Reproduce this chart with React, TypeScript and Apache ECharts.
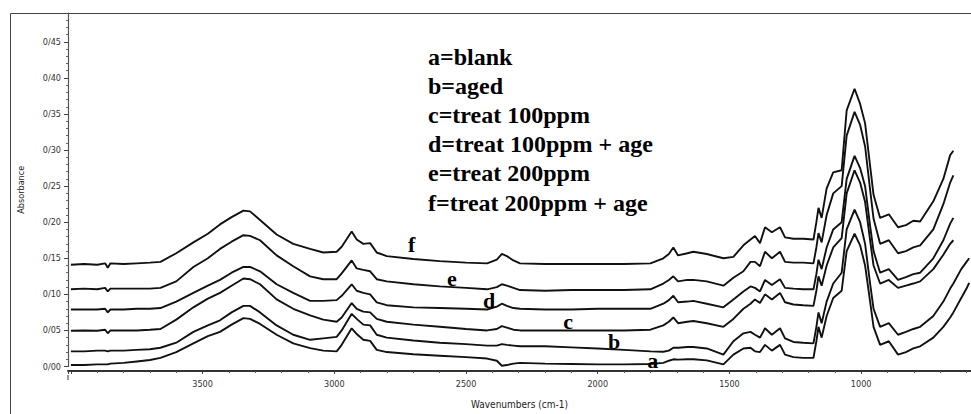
import React, { useEffect, useRef } from 'react';
import * as echarts from 'echarts';

// Wavenumber grid (cm-1), descending
const wavenumbers = [
  4000, 3950, 3900, 3870, 3860, 3850, 3800, 3750, 3700, 3660,
  3600, 3535, 3480, 3434, 3390, 3345, 3320, 3282, 3219, 3156,
  3092, 3042, 2991, 2972, 2934, 2915, 2890, 2864, 2839, 2801,
  2700, 2600, 2500, 2420, 2383, 2364, 2345, 2320, 2295, 2200,
  2100, 2000, 1900, 1800, 1751, 1730, 1713, 1695, 1660, 1637,
  1586, 1523, 1485, 1447, 1420, 1403, 1384, 1365, 1339, 1308,
  1289, 1257, 1220, 1181, 1170, 1162, 1150, 1131, 1106, 1074,
  1055, 1025, 1004, 985, 966, 953, 928, 895, 860, 830,
  802, 776, 726, 688, 662, 650, 620, 600, 590,
];

// a = blank
const curveA = [
  0.002, 0.002, 0.003, 0.003, 0.003, 0.004, 0.005, 0.007, 0.009, 0.012,
  0.020, 0.032, 0.042, 0.048, 0.058, 0.067, 0.066, 0.059, 0.044, 0.032,
  0.0255, 0.022, 0.021, 0.030, 0.053, 0.045, 0.037, 0.0355, 0.023, 0.020,
  0.017, 0.015, 0.013, 0.011, 0.008, 0.001, 0.002, 0.004, 0.005, 0.004,
  0.0035, 0.003, 0.003, 0.0035, 0.005, 0.008, 0.010, 0.0095, 0.010, 0.010,
  0.0085, 0.003, 0.0165, 0.025, 0.026, 0.021, 0.020, 0.030, 0.022, 0.030,
  0.0165, 0.013, 0.012, 0.012, 0.035, 0.055, 0.040, 0.070, 0.095, 0.105,
  0.160, 0.184, 0.168, 0.140, 0.090, 0.055, 0.030, 0.035, 0.0165, 0.020,
  0.025, 0.028, 0.040, 0.055, 0.068, 0.075, 0.095, 0.108, 0.116,
];

// b = aged
const curveB = [
  0.021, 0.021, 0.022, 0.022, 0.021, 0.022, 0.022, 0.023, 0.024, 0.026,
  0.033, 0.048, 0.057, 0.064, 0.075, 0.084, 0.084, 0.075, 0.057, 0.044,
  0.037, 0.039, 0.041, 0.050, 0.073, 0.066, 0.058, 0.057, 0.044, 0.040,
  0.036, 0.033, 0.031, 0.029, 0.029, 0.031, 0.030, 0.029, 0.028, 0.028,
  0.0265, 0.025, 0.023, 0.021, 0.0205, 0.022, 0.026, 0.026, 0.027, 0.027,
  0.025, 0.0165, 0.035, 0.046, 0.048, 0.044, 0.040, 0.053, 0.044, 0.053,
  0.039, 0.034, 0.033, 0.032, 0.055, 0.075, 0.060, 0.090, 0.115, 0.130,
  0.190, 0.2175, 0.200, 0.170, 0.115, 0.080, 0.055, 0.060, 0.044, 0.048,
  0.052, 0.055, 0.070, 0.090, 0.108, 0.115, 0.135, 0.145, 0.150,
];

// c = treat 100ppm
const curveC = [
  0.0495, 0.050, 0.0495, 0.051, 0.046, 0.050, 0.050, 0.050, 0.051, 0.052,
  0.065, 0.082, 0.094, 0.102, 0.112, 0.122, 0.121, 0.114, 0.093, 0.080,
  0.071, 0.065, 0.062, 0.068, 0.088, 0.080, 0.076, 0.075, 0.066, 0.062,
  0.058, 0.055, 0.052, 0.050, 0.052, 0.056, 0.054, 0.051, 0.050, 0.050,
  0.050, 0.050, 0.050, 0.051, 0.057, 0.062, 0.068, 0.060, 0.062, 0.063,
  0.060, 0.055, 0.066, 0.080, 0.087, 0.093, 0.088, 0.100, 0.093, 0.102,
  0.089, 0.086, 0.085, 0.084, 0.105, 0.125, 0.112, 0.140, 0.165, 0.178,
  0.240, 0.272, 0.255, 0.228, 0.175, 0.140, 0.115, 0.120, 0.109, 0.112,
  0.115, 0.118, 0.135, 0.155, 0.170, 0.175, null, null, null,
];

// d = treat 100ppm + age
const curveD = [
  0.079, 0.079, 0.079, 0.080, 0.075, 0.079, 0.079, 0.080, 0.080, 0.081,
  0.090, 0.102, 0.112, 0.120, 0.130, 0.138, 0.138, 0.132, 0.114, 0.102,
  0.091, 0.091, 0.092, 0.098, 0.114, 0.105, 0.102, 0.100, 0.089, 0.085,
  0.082, 0.081, 0.080, 0.079, 0.083, 0.087, 0.084, 0.081, 0.080, 0.079,
  0.079, 0.080, 0.080, 0.080, 0.087, 0.092, 0.098, 0.089, 0.090, 0.091,
  0.087, 0.082, 0.093, 0.104, 0.111, 0.109, 0.104, 0.120, 0.113, 0.121,
  0.109, 0.108, 0.107, 0.107, 0.128, 0.148, 0.135, 0.165, 0.190, 0.200,
  0.260, 0.292, 0.275, 0.250, 0.195, 0.160, 0.130, 0.135, 0.120, 0.124,
  0.128, 0.130, 0.150, 0.175, 0.198, 0.206, null, null, null,
];

// e = treat 200ppm
const curveE = [
  0.107, 0.108, 0.107, 0.109, 0.104, 0.108, 0.108, 0.108, 0.108, 0.109,
  0.118, 0.138, 0.150, 0.163, 0.173, 0.182, 0.181, 0.175, 0.154, 0.139,
  0.125, 0.121, 0.121, 0.129, 0.147, 0.136, 0.134, 0.132, 0.121, 0.118,
  0.114, 0.111, 0.109, 0.107, 0.110, 0.114, 0.112, 0.109, 0.106, 0.105,
  0.106, 0.106, 0.106, 0.107, 0.115, 0.120, 0.125, 0.118, 0.120, 0.120,
  0.118, 0.112, 0.123, 0.132, 0.145, 0.145, 0.139, 0.159, 0.150, 0.159,
  0.145, 0.144, 0.144, 0.143, 0.165, 0.185, 0.172, 0.210, 0.240, 0.250,
  0.320, 0.353, 0.335, 0.305, 0.245, 0.205, 0.170, 0.175, 0.157, 0.160,
  0.165, 0.168, 0.190, 0.225, 0.255, 0.265, null, null, null,
];

// f = treat 200ppm + age
const curveF = [
  0.141, 0.142, 0.141, 0.143, 0.137, 0.143, 0.142, 0.143, 0.144, 0.145,
  0.157, 0.172, 0.184, 0.197, 0.207, 0.216, 0.215, 0.203, 0.183, 0.170,
  0.163, 0.158, 0.159, 0.166, 0.187, 0.176, 0.170, 0.171, 0.158, 0.153,
  0.149, 0.146, 0.144, 0.143, 0.148, 0.156, 0.153, 0.147, 0.143, 0.142,
  0.142, 0.142, 0.142, 0.143, 0.150, 0.156, 0.165, 0.154, 0.157, 0.159,
  0.156, 0.150, 0.152, 0.168, 0.176, 0.181, 0.171, 0.193, 0.186, 0.193,
  0.179, 0.177, 0.177, 0.176, 0.200, 0.220, 0.206, 0.247, 0.269, 0.272,
  0.355, 0.385, 0.364, 0.337, 0.278, 0.238, 0.206, 0.211, 0.193, 0.196,
  0.202, 0.201, 0.229, 0.260, 0.293, 0.299, null, null, null,
];

const curveLetters = ['a', 'b', 'c', 'd', 'e', 'f'];
const curveValues = [curveA, curveB, curveC, curveD, curveE, curveF];
// where each letter label sits, in data units [wavenumber, absorbance]
const letterAnchorWavenumbers = [1791, 1938, 2112, 2412, 2554, 2706];
const letterAnchorAbsorbances = [0.0084, 0.0346, 0.0617, 0.091, 0.1226, 0.169];

const legendLines = [
  'a=blank',
  'b=aged',
  'c=treat 100ppm',
  'd=treat 100ppm + age',
  'e=treat 200ppm',
  'f=treat 200ppm + age',
];

const xAxisTitle = 'Wavenumbers (cm-1)';
const yAxisTitle = 'Absorbance';

const tickFont = "'Liberation Sans Narrow', 'DejaVu Sans Condensed', Arial, sans-serif";
const serifFont = "'Liberation Serif', 'Times New Roman', serif";

export default function App() {
  const ref = useRef<HTMLDivElement>(null);

  useEffect(() => {
    if (!ref.current) return;
    const chart = echarts.init(ref.current, undefined, { renderer: 'svg' });

    const series = curveLetters.map((letter, si) => ({
      name: letter,
      type: 'line',
      showSymbol: false,
      symbol: 'none',
      smooth: false,
      connectNulls: false,
      data: wavenumbers
        .map((w, i) => [w, curveValues[si][i]])
        .filter((p) => p[1] !== null),
      lineStyle: { color: '#111', width: 1.9 },
      markPoint: {
        symbol: 'circle',
        symbolSize: 1,
        itemStyle: { color: 'rgba(0,0,0,0)' },
        label: {
          show: true,
          position: 'inside',
          formatter: '{b}',
          color: '#000',
          fontFamily: serifFont,
          fontWeight: 'bold',
          fontSize: 22,
        },
        data: [
          {
            name: letter,
            coord: [letterAnchorWavenumbers[si], letterAnchorAbsorbances[si]],
          },
        ],
      },
    }));

    chart.setOption({
      animation: false,
      backgroundColor: '#fff',
      grid: { left: 68, right: 0, top: 13, bottom: 38.5, containLabel: false },
      xAxis: {
        type: 'value',
        inverse: true,
        min: 583,
        max: 4011,
        minInterval: 500,
        maxInterval: 500,
        offset: 4.5,
        name: xAxisTitle,
        nameLocation: 'middle',
        nameGap: 28,
        nameTextStyle: { fontFamily: tickFont, fontSize: 10, color: '#222' },
        axisLine: { show: true, onZero: false, lineStyle: { color: '#333', width: 2 } },
        axisTick: { show: true, inside: false, length: 3, lineStyle: { color: '#444' } },
        minorTick: { show: true, splitNumber: 5, length: 2, lineStyle: { color: '#555' } },
        splitLine: { show: false },
        axisLabel: {
          margin: 8,
          fontFamily: tickFont,
          fontSize: 9,
          color: '#333',
          showMinLabel: false,
          showMaxLabel: false,
          formatter: (v: number) => (v % 500 === 0 && v <= 3500 ? String(v) : ''),
        },
      },
      yAxis: {
        type: 'value',
        min: 0,
        max: 0.49,
        interval: 0.05,
        name: yAxisTitle,
        nameLocation: 'middle',
        nameRotate: 90,
        nameGap: 43,
        nameTextStyle: { fontFamily: tickFont, fontSize: 9, color: '#222' },
        axisLine: { show: true, lineStyle: { color: '#555', width: 1.2 } },
        axisTick: { show: true, inside: false, length: 4, lineStyle: { color: '#444' } },
        minorTick: { show: true, splitNumber: 5, length: 2, lineStyle: { color: '#666' } },
        splitLine: { show: false },
        axisLabel: {
          margin: 7,
          fontFamily: tickFont,
          fontSize: 9,
          color: '#333',
          showMaxLabel: false,
          formatter: (v: number) => {
            const r = Math.round(v * 100);
            if (Math.abs(v * 100 - r) > 1e-6 || r % 5 !== 0) return '';
            return '0/' + String(r).padStart(2, '0');
          },
        },
      },
      graphic: [
        {
          type: 'line',
          shape: { x1: 10.5, y1: 13.5, x2: 971, y2: 13.5 },
          style: { stroke: '#444', lineWidth: 1 },
          silent: true,
        },
        {
          type: 'line',
          shape: { x1: 10.5, y1: 13.5, x2: 10.5, y2: 414 },
          style: { stroke: '#444', lineWidth: 1 },
          silent: true,
        },
        {
          type: 'line',
          shape: { x1: 68, y1: 375, x2: 68, y2: 380 },
          style: { stroke: '#555', lineWidth: 1.2 },
          silent: true,
        },
        {
          type: 'text',
          x: 428,
          y: 42,
          style: {
            text: legendLines.join('\n'),
            font: `bold 24px ${serifFont}`,
            fill: '#000',
            lineHeight: 29.2,
          },
          silent: true,
        },
      ],
      series,
    });

    return () => chart.dispose();
  }, []);

  return (
    <div
      ref={ref}
      style={{ position: 'absolute', left: 0, top: 0, width: 971, height: 414 }}
    />
  );
}
